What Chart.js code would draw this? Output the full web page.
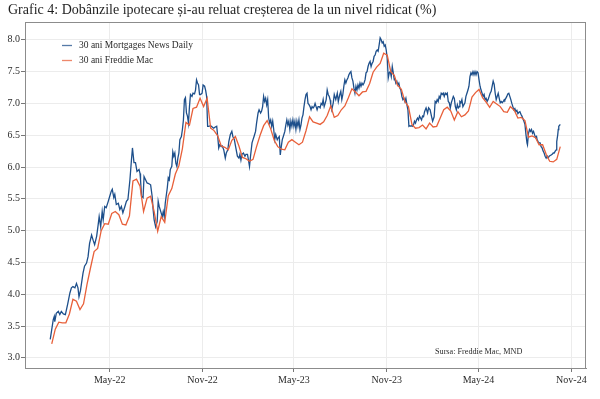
<!DOCTYPE html>
<html>
<head>
<meta charset="utf-8">
<script src="https://cdn.jsdelivr.net/npm/chart.js@4.4.1/dist/chart.umd.min.js"></script>
<style>
    html, body { margin: 0; padding: 0; background: #fff; }
    #wrap { width: 600px; height: 399px; }
</style>
</head>
<body>
<div id="wrap"><canvas id="chart" width="600" height="399"></canvas></div>
<script>
const chartTitle = "Grafic 4: Dobânzile ipotecare și-au reluat creșterea de la un nivel ridicat (%)";
const seriesLabels = ["30 ani Mortgages News Daily", "30 ani Freddie Mac"];
const sourceNote = "Sursa: Freddie Mac, MND";

const yTicks = [3.0, 3.5, 4.0, 4.5, 5.0, 5.5, 6.0, 6.5, 7.0, 7.5, 8.0];
const yRange = [2.84, 8.28];
const xTickDates = ["2022-05-01", "2022-11-01", "2023-05-01", "2023-11-01", "2024-05-01", "2024-11-01"];
const xTickLabels = ["May-22", "Nov-22", "May-23", "Nov-23", "May-24", "Nov-24"];
const xRange = ["2021-11-14", "2024-11-30"];

// 30 ani Mortgages News Daily (zilnic)
const mndDates = [
    "2022-01-03","2022-01-09","2022-01-11","2022-01-12","2022-01-15","2022-01-19","2022-01-22","2022-01-25","2022-01-29","2022-02-02",
    "2022-02-04","2022-02-07","2022-02-11","2022-02-14","2022-02-17","2022-02-21","2022-02-24","2022-02-27","2022-03-01","2022-03-04",
    "2022-03-06","2022-03-09","2022-03-12","2022-03-16","2022-03-19","2022-03-22","2022-03-26","2022-03-29","2022-04-01","2022-04-05",
    "2022-04-08","2022-04-10","2022-04-13","2022-04-16","2022-04-18","2022-04-21","2022-04-24","2022-04-28","2022-05-01","2022-05-04",
    "2022-05-06","2022-05-09","2022-05-11","2022-05-14","2022-05-18","2022-05-21","2022-05-24","2022-05-27","2022-05-31","2022-06-03",
    "2022-06-06","2022-06-10","2022-06-13","2022-06-15","2022-06-18","2022-06-21","2022-06-24","2022-06-28","2022-06-30","2022-07-01",
    "2022-07-03","2022-07-06","2022-07-08","2022-07-11","2022-07-14","2022-07-17","2022-07-21","2022-07-24","2022-07-26","2022-07-28",
    "2022-07-31","2022-08-03","2022-08-05","2022-08-07","2022-08-09","2022-08-13","2022-08-15","2022-08-17","2022-08-19","2022-08-23",
    "2022-08-25","2022-08-27","2022-08-29","2022-09-01","2022-09-03","2022-09-05","2022-09-07","2022-09-09","2022-09-11","2022-09-13",
    "2022-09-15","2022-09-17","2022-09-20","2022-09-22","2022-09-24","2022-09-26","2022-09-28","2022-09-30","2022-10-02","2022-10-04",
    "2022-10-06","2022-10-08","2022-10-11","2022-10-13","2022-10-16","2022-10-18","2022-10-20","2022-10-22","2022-10-24","2022-10-26",
    "2022-10-28","2022-10-31","2022-11-02","2022-11-05","2022-11-07","2022-11-09","2022-11-11","2022-11-13","2022-11-17","2022-11-20",
    "2022-11-23","2022-11-26","2022-11-29","2022-12-01","2022-12-03","2022-12-05","2022-12-08","2022-12-10","2022-12-13","2022-12-16",
    "2022-12-18","2022-12-21","2022-12-23","2022-12-26","2022-12-29","2022-12-31",
    "2023-01-03","2023-01-05","2023-01-09","2023-01-12","2023-01-14","2023-01-16","2023-01-18","2023-01-21","2023-01-24","2023-01-26",
    "2023-01-29","2023-01-31","2023-02-02","2023-02-04","2023-02-07","2023-02-09","2023-02-11","2023-02-14","2023-02-16","2023-02-19",
    "2023-02-21","2023-02-24","2023-02-26","2023-02-28","2023-03-02","2023-03-04","2023-03-06","2023-03-08","2023-03-10","2023-03-12",
    "2023-03-14","2023-03-16","2023-03-18","2023-03-20","2023-03-22","2023-03-24","2023-03-26","2023-03-29","2023-03-31","2023-04-02",
    "2023-04-04","2023-04-06","2023-04-08","2023-04-10","2023-04-13","2023-04-15","2023-04-17","2023-04-19","2023-04-21","2023-04-23",
    "2023-04-25","2023-04-27","2023-04-29","2023-05-01","2023-05-03","2023-05-05","2023-05-07","2023-05-09","2023-05-11","2023-05-13",
    "2023-05-15","2023-05-17","2023-05-19","2023-05-21","2023-05-23","2023-05-25","2023-05-27","2023-05-29","2023-05-31","2023-06-02",
    "2023-06-04","2023-06-06","2023-06-08","2023-06-10","2023-06-12","2023-06-14","2023-06-16","2023-06-18","2023-06-20","2023-06-22",
    "2023-06-24","2023-06-26","2023-06-28","2023-06-30","2023-07-02","2023-07-04","2023-07-06","2023-07-08","2023-07-10","2023-07-12",
    "2023-07-13","2023-07-15","2023-07-18","2023-07-20","2023-07-23","2023-07-26","2023-07-28","2023-07-31","2023-08-02","2023-08-04",
    "2023-08-06","2023-08-08","2023-08-10","2023-08-12","2023-08-14","2023-08-16","2023-08-18","2023-08-20","2023-08-22","2023-08-24",
    "2023-08-26","2023-08-28","2023-08-30","2023-09-01","2023-09-03","2023-09-05","2023-09-07","2023-09-09","2023-09-11","2023-09-13",
    "2023-09-15","2023-09-17","2023-09-19","2023-09-21","2023-09-23","2023-09-25","2023-09-27","2023-09-29","2023-10-01","2023-10-03",
    "2023-10-05","2023-10-07","2023-10-09","2023-10-11","2023-10-13","2023-10-15","2023-10-17","2023-10-19","2023-10-21","2023-10-23",
    "2023-10-25","2023-10-27","2023-10-29","2023-10-31","2023-11-02","2023-11-04","2023-11-06","2023-11-08","2023-11-10","2023-11-12",
    "2023-11-14","2023-11-16","2023-11-17","2023-11-19","2023-11-21","2023-11-23","2023-11-25","2023-11-27","2023-11-29","2023-12-01",
    "2023-12-03","2023-12-05","2023-12-07","2023-12-09","2023-12-11","2023-12-13","2023-12-15","2023-12-17","2023-12-19","2023-12-21",
    "2023-12-22","2023-12-24","2023-12-26","2023-12-28","2023-12-30",
    "2024-01-01","2024-01-03","2024-01-05","2024-01-07","2024-01-09","2024-01-11","2024-01-13","2024-01-15","2024-01-18","2024-01-21",
    "2024-01-23","2024-01-26","2024-01-29","2024-01-31","2024-02-03","2024-02-05","2024-02-07","2024-02-09","2024-02-11","2024-02-13",
    "2024-02-15","2024-02-17","2024-02-19","2024-02-21","2024-02-23","2024-02-25","2024-02-27","2024-02-29","2024-03-02","2024-03-04",
    "2024-03-06","2024-03-08","2024-03-10","2024-03-12","2024-03-14","2024-03-16","2024-03-18","2024-03-20","2024-03-22","2024-03-24",
    "2024-03-25","2024-03-27","2024-03-29","2024-03-31","2024-04-02","2024-04-04","2024-04-06","2024-04-08","2024-04-10","2024-04-12",
    "2024-04-14","2024-04-16","2024-04-18","2024-04-20","2024-04-22","2024-04-24","2024-04-26","2024-04-28","2024-04-30","2024-05-02",
    "2024-05-04","2024-05-06","2024-05-08","2024-05-10","2024-05-12","2024-05-14","2024-05-16","2024-05-18","2024-05-20","2024-05-22",
    "2024-05-24","2024-05-26","2024-05-28","2024-05-30","2024-06-01","2024-06-03","2024-06-05","2024-06-07","2024-06-09","2024-06-11",
    "2024-06-13","2024-06-15","2024-06-17","2024-06-19","2024-06-21","2024-06-22","2024-06-24","2024-06-26","2024-06-28","2024-06-30",
    "2024-07-02","2024-07-04","2024-07-06","2024-07-08","2024-07-10","2024-07-12","2024-07-14","2024-07-16","2024-07-18","2024-07-20",
    "2024-07-22","2024-07-24","2024-07-26","2024-07-28","2024-07-30","2024-08-01","2024-08-03","2024-08-05","2024-08-06","2024-08-08",
    "2024-08-10","2024-08-12","2024-08-14","2024-08-16","2024-08-18","2024-08-20","2024-08-22","2024-08-24","2024-08-25","2024-08-27",
    "2024-08-29","2024-08-31","2024-09-02","2024-09-04","2024-09-06","2024-09-08","2024-09-10","2024-09-12","2024-09-14","2024-09-16",
    "2024-09-18","2024-09-20","2024-09-22","2024-09-24","2024-09-26","2024-09-28","2024-09-30","2024-10-02","2024-10-03","2024-10-05",
    "2024-10-06","2024-10-07","2024-10-09","2024-10-10"
];
const mndValues = [
    3.29, 3.60, 3.65, 3.57, 3.70, 3.73, 3.68, 3.73, 3.69, 3.68,
    3.75, 3.86, 4.02, 4.10, 4.12, 4.10, 4.17, 4.10, 3.96, 4.06,
    4.17, 4.33, 4.44, 4.49, 4.59, 4.80, 4.93, 4.85, 4.78, 4.91,
    5.09, 5.22, 5.06, 5.30, 5.17, 5.38, 5.36, 5.46, 5.54, 5.62,
    5.65, 5.52, 5.57, 5.41, 5.43, 5.33, 5.38, 5.28, 5.38, 5.46,
    5.49, 5.80, 6.11, 6.30, 6.07, 6.07, 5.93, 5.96, 5.90, 5.80,
    5.54, 5.52, 5.85, 5.80, 5.75, 5.74, 5.72, 5.54, 5.33, 5.17,
    5.06, 5.14, 5.46, 5.38, 5.33, 5.22, 5.30, 5.22, 5.43, 5.67,
    5.83, 5.80, 5.96, 6.01, 6.24, 6.17, 6.22, 6.06, 6.01, 6.14,
    6.22, 6.43, 6.48, 6.59, 6.74, 7.06, 7.09, 6.85, 6.80, 6.69,
    6.95, 7.14, 7.11, 7.16, 7.15, 7.21, 7.37, 7.32, 7.29, 7.14,
    7.14, 7.16, 7.29, 7.27, 7.21, 7.11, 6.64, 6.64, 6.65, 6.63,
    6.61, 6.63, 6.64, 6.48, 6.30, 6.35, 6.32, 6.33, 6.27, 6.14,
    6.22, 6.27, 6.40, 6.51, 6.56, 6.48,
    6.43, 6.34, 6.17, 6.14, 6.20, 6.11, 6.20, 6.22, 6.17, 6.20,
    6.20, 6.11, 6.01, 6.17, 6.38, 6.43, 6.48, 6.56, 6.69, 6.85,
    6.90, 6.85, 6.88, 6.95, 7.11, 7.03, 7.08, 6.98, 7.06, 6.77,
    6.69, 6.74, 6.64, 6.72, 6.59, 6.43, 6.51, 6.43, 6.46, 6.48,
    6.19, 6.32, 6.43, 6.48, 6.56, 6.66, 6.74, 6.66, 6.72, 6.59,
    6.72, 6.64, 6.74, 6.64, 6.72, 6.59, 6.72, 6.64, 6.74, 6.59,
    6.66, 6.77, 6.82, 6.95, 7.06, 7.14, 7.16, 7.00, 6.98, 6.95,
    6.90, 6.95, 6.93, 6.95, 7.00, 6.95, 6.90, 6.95, 6.95, 6.93,
    7.00, 6.98, 7.06, 6.95, 7.00, 7.06, 7.21, 7.14, 7.11, 7.05,
    6.98, 6.90, 7.01, 7.14, 7.06, 7.16, 7.03, 7.14, 7.19, 7.06,
    7.14, 7.27, 7.37, 7.32, 7.37, 7.40, 7.45, 7.48, 7.50, 7.40,
    7.35, 7.24, 7.16, 7.27, 7.21, 7.29, 7.24, 7.32, 7.27, 7.32,
    7.29, 7.32, 7.37, 7.48, 7.50, 7.58, 7.63, 7.66, 7.58, 7.63,
    7.66, 7.74, 7.76, 7.82, 7.84, 7.82, 7.92, 8.03, 8.00, 7.95,
    7.97, 7.90, 7.92, 7.84, 7.71, 7.40, 7.48, 7.50, 7.42, 7.58,
    7.48, 7.37, 7.40, 7.32, 7.35, 7.29, 7.32, 7.24, 7.21, 7.11,
    7.06, 7.08, 7.03, 7.08, 6.98, 6.90, 6.64, 6.65, 6.64, 6.65,
    6.64, 6.66, 6.72, 6.69, 6.74,
    6.77, 6.74, 6.80, 6.77, 6.74, 6.80, 6.79, 6.87, 6.93, 6.85,
    6.93, 6.90, 6.79, 6.72, 6.79, 7.03, 7.01, 7.06, 7.03, 7.11,
    7.08, 7.16, 7.14, 7.16, 7.11, 7.16, 7.14, 7.16, 7.03, 7.01,
    6.93, 7.01, 7.06, 7.11, 7.08, 6.95, 6.90, 6.98, 6.93, 6.95,
    7.03, 7.01, 7.06, 6.95, 6.98, 7.01, 7.11, 7.16, 7.21, 7.27,
    7.42, 7.48, 7.45, 7.50, 7.45, 7.50, 7.45, 7.50, 7.48, 7.37,
    7.27, 7.21, 7.16, 7.11, 7.14, 7.06, 7.08, 7.03, 7.06, 7.11,
    7.16, 7.19, 7.27, 7.35, 7.30, 7.16, 7.06, 7.11, 7.16, 7.08,
    7.01, 7.03, 7.01, 7.03, 7.06, 7.05, 7.08, 7.11, 7.15, 7.16,
    7.11, 7.06, 7.00, 6.95, 6.90, 6.92, 6.87, 6.89, 6.84, 6.86,
    6.87, 6.83, 6.80, 6.76, 6.72, 6.67, 6.51, 6.38, 6.35, 6.53,
    6.59, 6.56, 6.59, 6.53, 6.56, 6.51, 6.46, 6.48, 6.43, 6.40,
    6.38, 6.38, 6.32, 6.30, 6.25, 6.22, 6.17, 6.14, 6.17, 6.14,
    6.17, 6.18, 6.19, 6.20, 6.22, 6.22, 6.25, 6.27, 6.40, 6.51,
    6.59, 6.64, 6.66, 6.67
];

// 30 ani Freddie Mac (saptamanal)
const fmDates = [
    "2022-01-06","2022-01-13","2022-01-20","2022-01-27","2022-02-03","2022-02-10","2022-02-17","2022-02-24","2022-03-03","2022-03-10",
    "2022-03-17","2022-03-24","2022-03-31","2022-04-07","2022-04-14","2022-04-21","2022-04-28","2022-05-05","2022-05-12","2022-05-19",
    "2022-05-26","2022-06-02","2022-06-09","2022-06-16","2022-06-23","2022-06-30","2022-07-07","2022-07-14","2022-07-21","2022-07-28",
    "2022-08-04","2022-08-11","2022-08-18","2022-08-25","2022-09-01","2022-09-08","2022-09-15","2022-09-22","2022-09-29","2022-10-06",
    "2022-10-13","2022-10-20","2022-10-27","2022-11-03","2022-11-10","2022-11-17","2022-11-23","2022-12-01","2022-12-08","2022-12-15",
    "2022-12-22","2022-12-29",
    "2023-01-05","2023-01-12","2023-01-19","2023-01-26","2023-02-02","2023-02-09","2023-02-16","2023-02-23","2023-03-02","2023-03-09",
    "2023-03-16","2023-03-23","2023-03-30","2023-04-06","2023-04-13","2023-04-20","2023-04-27","2023-05-04","2023-05-11","2023-05-18",
    "2023-05-25","2023-06-01","2023-06-08","2023-06-15","2023-06-22","2023-06-29","2023-07-06","2023-07-13","2023-07-20","2023-07-27",
    "2023-08-03","2023-08-10","2023-08-17","2023-08-24","2023-08-31","2023-09-07","2023-09-14","2023-09-21","2023-09-28","2023-10-05",
    "2023-10-12","2023-10-19","2023-10-26","2023-11-02","2023-11-09","2023-11-16","2023-11-22","2023-11-30","2023-12-07","2023-12-14",
    "2023-12-21","2023-12-28",
    "2024-01-04","2024-01-11","2024-01-18","2024-01-25","2024-02-01","2024-02-08","2024-02-15","2024-02-22","2024-02-29","2024-03-07",
    "2024-03-14","2024-03-21","2024-03-28","2024-04-04","2024-04-11","2024-04-18","2024-04-25","2024-05-02","2024-05-09","2024-05-16",
    "2024-05-23","2024-05-30","2024-06-06","2024-06-13","2024-06-20","2024-06-27","2024-07-03","2024-07-11","2024-07-18","2024-07-25",
    "2024-08-01","2024-08-08","2024-08-15","2024-08-22","2024-08-29","2024-09-05","2024-09-12","2024-09-19","2024-09-26","2024-10-03",
    "2024-10-10"
];
const fmValues = [
    3.22, 3.45, 3.56, 3.55, 3.55, 3.69, 3.92, 3.89, 3.76, 3.85,
    4.16, 4.42, 4.67, 4.72, 5.00, 5.11, 5.10, 5.27, 5.30, 5.25,
    5.10, 5.09, 5.23, 5.78, 5.81, 5.70, 5.30, 5.51, 5.54, 5.30,
    4.99, 5.22, 5.13, 5.55, 5.66, 5.89, 6.02, 6.29, 6.70, 6.66,
    6.92, 6.94, 7.08, 6.95, 7.08, 6.61, 6.58, 6.49, 6.33, 6.31,
    6.27, 6.42,
    6.48, 6.33, 6.15, 6.13, 6.09, 6.12, 6.32, 6.50, 6.65, 6.73,
    6.60, 6.42, 6.32, 6.28, 6.27, 6.39, 6.43, 6.39, 6.35, 6.39,
    6.57, 6.79, 6.71, 6.69, 6.67, 6.71, 6.81, 6.96, 6.78, 6.81,
    6.90, 6.96, 7.09, 7.23, 7.18, 7.12, 7.18, 7.19, 7.31, 7.49,
    7.57, 7.63, 7.79, 7.76, 7.50, 7.44, 7.29, 7.22, 7.03, 6.95,
    6.67, 6.61,
    6.62, 6.66, 6.60, 6.69, 6.63, 6.64, 6.77, 6.90, 6.94, 6.88,
    6.74, 6.87, 6.79, 6.82, 6.88, 7.10, 7.17, 7.22, 7.09, 7.02,
    6.94, 7.03, 6.99, 6.95, 6.87, 6.86, 6.95, 6.89, 6.77, 6.78,
    6.73, 6.47, 6.49, 6.46, 6.35, 6.35, 6.20, 6.09, 6.08, 6.12,
    6.32
];

const FONT = "'Liberation Serif', 'DejaVu Serif', serif";
const TEXT = "#2b2b2b";
const BLUE = "#1d4f8b";
const ORANGE = "#e8603a";

const toTime = d => Date.parse(d);
const toPoints = (dates, vals) => dates.map((d, i) => ({ x: toTime(d), y: vals[i] }));

// title, legend inside the plot, source note and the frame round the plot
const decorPlugin = {
    id: "decor",
    afterDraw(chart) {
        const ctx = chart.ctx;
        const area = chart.chartArea;
        ctx.save();

        ctx.strokeStyle = "#8c8c8c";
        ctx.lineWidth = 1;
        ctx.strokeRect(area.left + 0.5, area.top + 0.5, area.right - area.left - 1, area.bottom - area.top);

        ctx.fillStyle = "#1f1f1f";
        ctx.font = "14px " + FONT;
        ctx.textBaseline = "middle";
        ctx.textAlign = "left";
        ctx.fillText(chartTitle, 8, 10);

        const colors = [BLUE, ORANGE];
        ctx.font = "9.5px " + FONT;
        seriesLabels.forEach((lab, i) => {
            const y = 45.5 + i * 15;
            ctx.strokeStyle = colors[i];
            ctx.globalAlpha = 0.75;
            ctx.lineWidth = 1.3;
            ctx.beginPath();
            ctx.moveTo(62, y);
            ctx.lineTo(72, y);
            ctx.stroke();
            ctx.globalAlpha = 1;
            ctx.fillStyle = TEXT;
            ctx.fillText(lab, 79, y);
        });

        ctx.font = "8.2px " + FONT;
        ctx.fillText(sourceNote, 435, 352);
        ctx.restore();
    }
};

new Chart(document.getElementById("chart"), {
    type: "line",
    data: {
        datasets: [
            {
                label: seriesLabels[0],
                data: toPoints(mndDates, mndValues),
                borderColor: BLUE,
                borderWidth: 1.3,
                pointRadius: 0,
                tension: 0,
                order: 2
            },
            {
                label: seriesLabels[1],
                data: toPoints(fmDates, fmValues),
                borderColor: ORANGE,
                borderWidth: 1.3,
                pointRadius: 0,
                tension: 0,
                order: 1
            }
        ]
    },
    options: {
        responsive: false,
        animation: false,
        layout: { padding: { top: 22, right: 14, left: 0, bottom: 0 } },
        plugins: { legend: { display: false }, tooltip: { enabled: false }, title: { display: false } },
        scales: {
            x: {
                type: "linear",
                min: toTime(xRange[0]),
                max: toTime(xRange[1]),
                afterBuildTicks: s => { s.ticks = xTickDates.map(d => ({ value: toTime(d) })); },
                afterFit: s => { s.height = 31; },
                ticks: {
                    autoSkip: false,
                    maxRotation: 0,
                    padding: 2,
                    color: TEXT,
                    font: { family: FONT, size: 10 },
                    callback: v => xTickLabels[xTickDates.findIndex(d => toTime(d) === v)]
                },
                grid: { color: "#ececec", tickColor: "#777", tickLength: 4 },
                border: { color: "#8c8c8c" }
            },
            y: {
                min: yRange[0],
                max: yRange[1],
                afterBuildTicks: s => { s.ticks = yTicks.map(v => ({ value: v })); },
                afterFit: s => { s.width = 25; },
                ticks: {
                    padding: 1,
                    color: TEXT,
                    font: { family: FONT, size: 10 },
                    callback: v => v.toFixed(1)
                },
                grid: { color: "#ececec", tickColor: "#777", tickLength: 4 },
                border: { color: "#8c8c8c" }
            }
        }
    },
    plugins: [decorPlugin]
});
</script>
</body>
</html>
